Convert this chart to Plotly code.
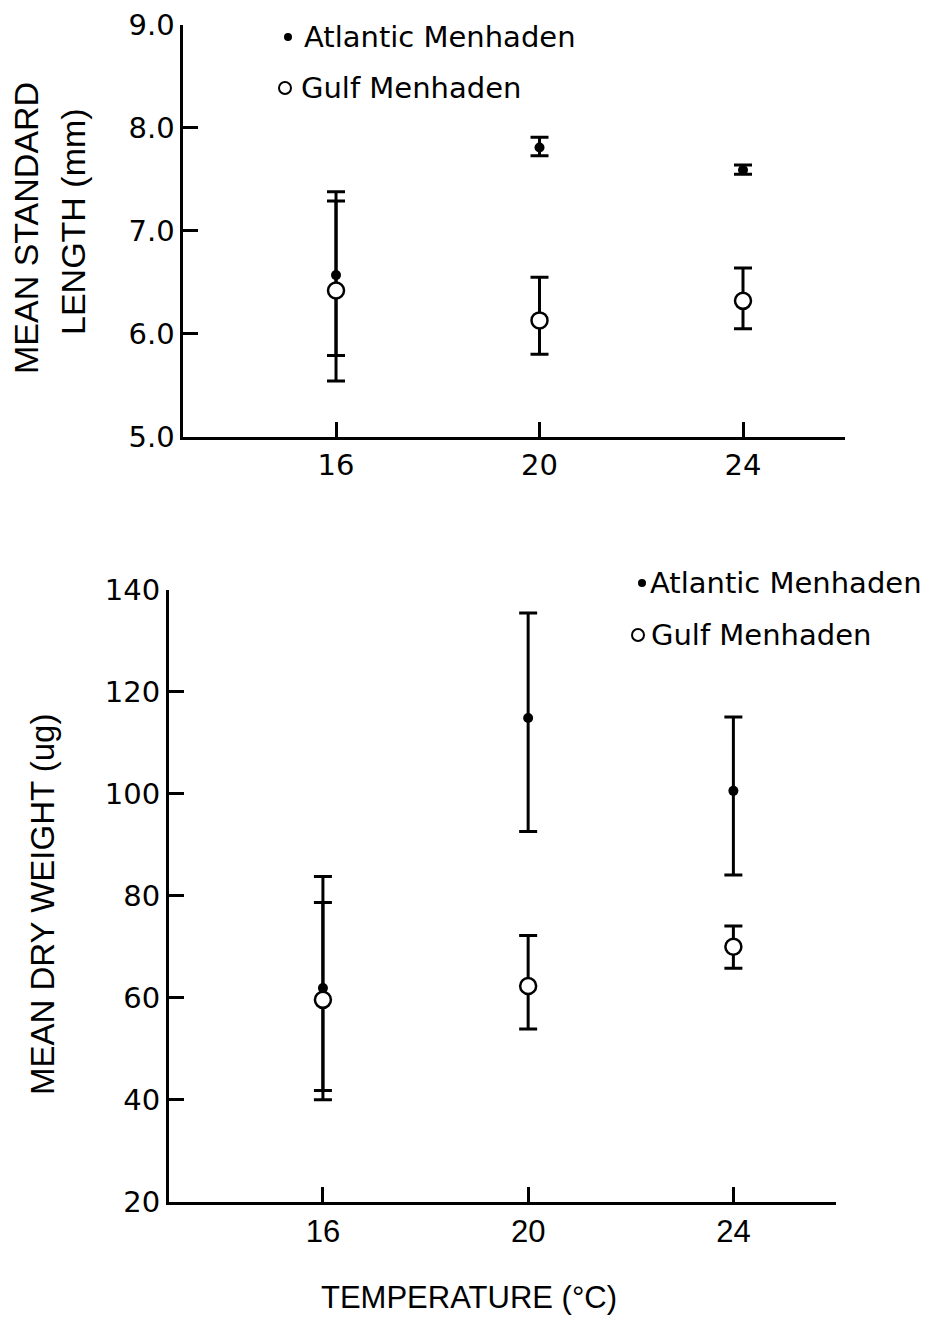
import plotly.graph_objects as go

# ---- data ----
temperature = [16, 20, 24]

# Mean standard length (mm)
atl_len = [6.57, 7.81, 7.59]
atl_len_plus = [0.81, 0.10, 0.05]
atl_len_minus = [0.78, 0.08, 0.04]
gulf_len = [6.42, 6.13, 6.32]
gulf_len_plus = [0.87, 0.42, 0.32]
gulf_len_minus = [0.88, 0.33, 0.27]

# Mean dry weight (ug)
atl_wt = [61.9, 114.9, 100.6]
atl_wt_plus = [21.9, 20.6, 14.5]
atl_wt_minus = [21.9, 22.3, 16.5]
gulf_wt = [59.6, 62.3, 70.0]
gulf_wt_plus = [19.1, 9.9, 4.1]
gulf_wt_minus = [17.8, 8.4, 4.2]

x_ticks = [16, 20, 24]
len_ticks = [5.0, 6.0, 7.0, 8.0, 9.0]
len_ticklabels = ["5.0", "6.0", "7.0", "8.0", "9.0"]
wt_ticks = [20, 40, 60, 80, 100, 120, 140]
wt_ticklabels = ["20", "40", "60", "80", "100", "120", "140"]

series_names = ["Atlantic Menhaden", "Gulf Menhaden"]

# page is 937x1338, body has 8px margin -> figure 921x1322 placed at (8,8)
OFF = 8
W, H = 937 - 2 * OFF, 1338 - 2 * OFF
SANS = "DejaVu Sans"
ARIAL = "Liberation Sans, Arial"


def fx(xp):
    return (xp - OFF) / W


def fy(yp):
    return 1 - (yp - OFF) / H


fig = go.Figure()


def add_series(xa, ya, y, plus, minus, filled, name):
    if filled:
        marker = dict(symbol="circle", size=10, color="black", line=dict(width=0))
    else:
        marker = dict(symbol="circle", size=16, color="white",
                      line=dict(color="black", width=2.5))
    fig.add_trace(go.Scatter(
        x=temperature, y=y, mode="markers", name=name,
        xaxis=xa, yaxis=ya, showlegend=False,
        marker=marker,
        error_y=dict(type="data", symmetric=False, array=plus, arrayminus=minus,
                     color="black", thickness=3, width=9),
    ))


add_series("x", "y", atl_len, atl_len_plus, atl_len_minus, True, series_names[0])
add_series("x", "y", gulf_len, gulf_len_plus, gulf_len_minus, False, series_names[1])
add_series("x2", "y2", atl_wt, atl_wt_plus, atl_wt_minus, True, series_names[0])
add_series("x2", "y2", gulf_wt, gulf_wt_plus, gulf_wt_minus, False, series_names[1])

axis_common = dict(showline=True, linecolor="black", linewidth=3, mirror=False,
                   ticks="inside", ticklen=15, tickwidth=3, tickcolor="black",
                   showgrid=False, zeroline=False, fixedrange=True,
                   automargin=False)

fig.update_layout(
    template="none",
    width=W, height=H,
    margin=dict(l=0, r=0, t=0, b=0, pad=0, autoexpand=False),
    paper_bgcolor="white", plot_bgcolor="white",
    showlegend=False,
    xaxis=dict(domain=[fx(183.4), fx(844.75)], range=[13, 26], anchor="y",
               tickvals=x_ticks, ticktext=[str(v) for v in x_ticks],
               tickfont=dict(family=SANS, size=29, color="black"), **axis_common),
    yaxis=dict(domain=[fy(436.7), fy(25)], range=[5, 9], anchor="x",
               tickvals=len_ticks, ticktext=len_ticklabels,
               tickfont=dict(family=SANS, size=29, color="black"), **axis_common),
    xaxis2=dict(domain=[fx(169), fx(836)], range=[13, 26], anchor="y2",
                tickvals=x_ticks, ticktext=[str(v) for v in x_ticks],
                tickfont=dict(family=ARIAL, size=31, color="black"), **axis_common),
    yaxis2=dict(domain=[fy(1201.7), fy(590)], range=[20, 140], anchor="x2",
                tickvals=wt_ticks, ticktext=wt_ticklabels,
                tickfont=dict(family=SANS, size=29, color="black"), **axis_common),
)

annotations = []


def ann(text, xp, yp, size, family=ARIAL, angle=0, xanchor="center"):
    annotations.append(dict(text=text, x=fx(xp), y=fy(yp), xref="paper", yref="paper",
                            showarrow=False, textangle=angle, xanchor=xanchor,
                            yanchor="middle",
                            font=dict(family=family, size=size, color="black")))


# y-axis titles
ann("MEAN STANDARD", 26, 228, 34, angle=-90)
ann("LENGTH (mm)", 73, 222, 34, angle=-90)
ann("MEAN DRY WEIGHT (ug)", 42, 905, 33, angle=-90)
# x-axis title
ann("TEMPERATURE (°C)", 469, 1297, 31)

# legends (text)
ann(series_names[0], 302, 37, 29, family=SANS, xanchor="left")
ann(series_names[1], 299, 88, 29, family=SANS, xanchor="left")
ann(series_names[0], 648, 583, 29, family=SANS, xanchor="left")
ann(series_names[1], 649, 635, 29, family=SANS, xanchor="left")
fig.update_layout(annotations=annotations)

# legend symbols as shapes
shapes = []


def dot(cx, cy, r, filled):
    shapes.append(dict(type="circle", xref="paper", yref="paper",
                       x0=fx(cx - r), x1=fx(cx + r), y0=fy(cy + r), y1=fy(cy - r),
                       fillcolor="black" if filled else "white",
                       line=dict(color="black", width=0 if filled else 2)))


dot(288, 37, 4, True)
dot(285, 88, 6, False)
dot(642, 583, 4, True)
dot(638, 635, 6, False)
fig.update_layout(shapes=shapes)

fig.write_html("out.html")
